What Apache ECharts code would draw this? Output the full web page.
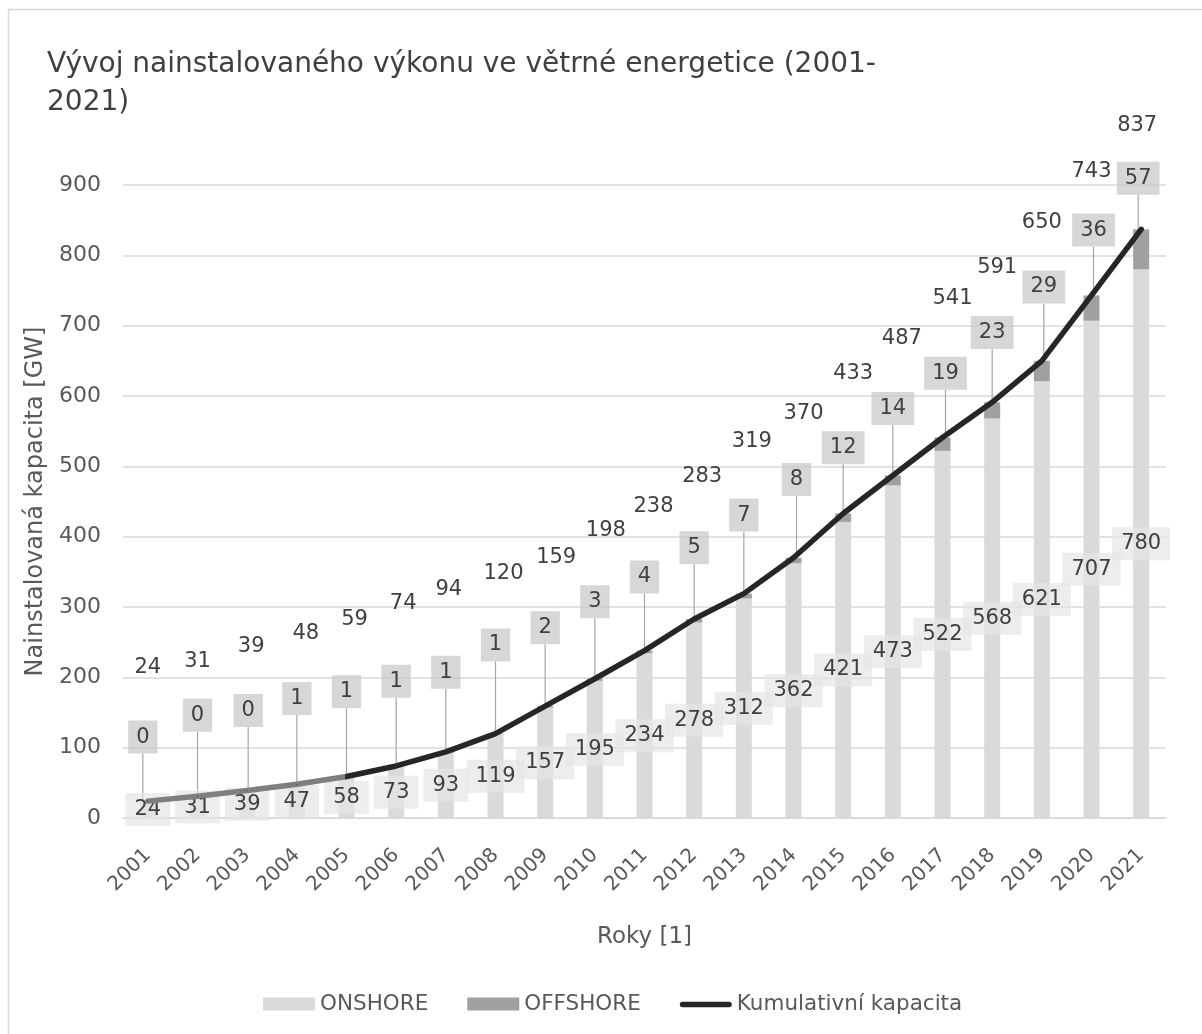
<!DOCTYPE html>
<html lang="cs">
<head>
<meta charset="utf-8">
<title>Vývoj nainstalovaného výkonu ve větrné energetice</title>
<script src="https://cdn.jsdelivr.net/npm/echarts@6/dist/echarts.min.js"></script>
<style>
  html, body { margin: 0; padding: 0; background: #ffffff; }
  #chart { width: 1202px; height: 1034px; }
</style>
</head>
<body>
<div id="chart"></div>
<script>
// Installed wind capacity, GW
const years = ['2001','2002','2003','2004','2005','2006','2007','2008','2009','2010','2011',
               '2012','2013','2014','2015','2016','2017','2018','2019','2020','2021'];
const onshore  = [24, 31, 39, 47, 58, 73, 93, 119, 157, 195, 234, 278, 312, 362, 421, 473, 522, 568, 621, 707, 780];
const offshore = [0, 0, 0, 1, 1, 1, 1, 1, 2, 3, 4, 5, 7, 8, 12, 14, 19, 23, 29, 36, 57];
const cumulative = [24, 31, 39, 48, 59, 74, 94, 120, 159, 198, 238, 283, 319, 370, 433, 487, 541, 591, 650, 743, 837];
const yTicks = { min: 0, max: 900, step: 100 };

// Label placement (pixel offsets from each mark)
const totalLabelDy = [-134,-135,-144,-151,-157,-162,-162,-160,-149,-148,-144,-142,-152,-144,-140,-137,-139,-135,-138,-124,-104];
const totalLabelDx = [0, 0, 4, 9, 8, 7, 3, 8, 11, 11, 9, 8, 8, 10, 10, 9, 10, 5, 0, 0, -4];
const offshoreLabelDy = [-64,-81,-80,-86,-85,-85,-80,-89,-79,-78,-75,-73,-81,-81,-70,-72,-71,-78,-84,-78,-71];
const offshoreLabelDx = [-5, 0, 1, 0, 0, 0, 0, 0, 0, 0, 0, 0, 0, 3, 0, 0, 3, 0, 2, 2, -3];

const FONT = '"DejaVu Sans", "Noto Sans", sans-serif';
const TEXT = '#404040';
const AXIS_TEXT = '#595959';
const GRID = '#d9d9d9';
const LINE_DARK = '#262626';
const LINE_EARLY = '#7f7f7f';

// the first stretch of the cumulative line (2001-2005) is drawn in grey
const earlyStop = 4 / (years.length - 1);
const lineColor = new echarts.graphic.LinearGradient(0, 0, 1, 0, [
  { offset: 0, color: LINE_EARLY },
  { offset: earlyStop, color: LINE_EARLY },
  { offset: earlyStop, color: LINE_DARK },
  { offset: 1, color: LINE_DARK }
]);

const chart = echarts.init(document.getElementById('chart'), null, { renderer: 'canvas' });

chart.setOption({
  backgroundColor: '#ffffff',
  animation: false,
  textStyle: { fontFamily: FONT },
  graphic: [{
    type: 'rect',
    shape: { x: 8.5, y: 9.5, width: 1300, height: 1100 },
    style: { fill: 'none', stroke: GRID, lineWidth: 1.5 },
    silent: true
  }],
  title: {
    text: 'Vývoj nainstalovaného výkonu ve větrné energetice (2001-\n2021)',
    left: 42,
    top: 41,
    textStyle: { fontFamily: FONT, fontSize: 28, fontWeight: 'normal', color: TEXT, lineHeight: 38 }
  },
  legend: {
    left: 258,
    top: 988,
    itemWidth: 52,
    itemHeight: 13,
    itemGap: 39,
    textStyle: { fontFamily: FONT, fontSize: 21.5, color: AXIS_TEXT },
    data: [
      { name: 'ONSHORE', icon: 'rect' },
      { name: 'OFFSHORE', icon: 'rect' },
      { name: 'Kumulativní kapacita',
        icon: 'path://M2,4 L52,4 A3,3 0 0 1 52,10 L2,10 A3,3 0 0 1 2,4 Z M0,0 L0.01,0 L0.01,13 L0,13 Z M54,0 L54.01,0 L54.01,13 L54,13 Z',
        itemStyle: { color: LINE_DARK, opacity: 1 } }
    ]
  },
  grid: { left: 123, right: 36, top: 185, bottom: 216, containLabel: false },
  xAxis: {
    type: 'category',
    data: years,
    name: 'Roky [1]',
    nameLocation: 'middle',
    nameGap: 108,
    nameTextStyle: { fontFamily: FONT, fontSize: 23, color: AXIS_TEXT },
    axisLine: { lineStyle: { color: GRID, width: 1.5 } },
    axisTick: { show: false },
    axisLabel: { rotate: 45, fontFamily: FONT, fontSize: 20, color: AXIS_TEXT, margin: 34, interval: 0 }
  },
  yAxis: {
    type: 'value',
    min: yTicks.min,
    max: yTicks.max,
    interval: yTicks.step,
    name: 'Nainstalovaná kapacita [GW]',
    nameLocation: 'middle',
    nameGap: 72,
    nameTextStyle: { fontFamily: FONT, fontSize: 24, color: AXIS_TEXT },
    axisLine: { show: false },
    axisTick: { show: false },
    axisLabel: { fontFamily: FONT, fontSize: 22, color: AXIS_TEXT, margin: 22 },
    splitLine: { lineStyle: { color: GRID, width: 1.5 } }
  },
  series: [
    {
      name: 'ONSHORE',
      type: 'bar',
      stack: 'kapacita',
      data: onshore,
      barWidth: 16,
      itemStyle: { color: '#dadada' },
      label: {
        show: true,
        position: 'inside',
        color: TEXT,
        fontSize: 21,
        fontFamily: FONT,
        backgroundColor: 'rgba(230,230,230,0.7)',
        padding: [6, 9, 6, 9]
      },
      z: 2
    },
    {
      name: 'OFFSHORE',
      type: 'bar',
      stack: 'kapacita',
      data: offshore,
      barWidth: 16,
      itemStyle: { color: '#a0a0a0' },
      label: {
        show: true,
        position: 'inside',
        color: TEXT,
        fontSize: 21,
        fontFamily: FONT,
        backgroundColor: 'rgba(200,200,200,0.72)',
        padding: [6, 8, 6, 8]
      },
      labelLine: { show: true, lineStyle: { color: '#a6a6a6', width: 1.2 } },
      labelLayout: function (p) {
        return { dx: offshoreLabelDx[p.dataIndex], dy: offshoreLabelDy[p.dataIndex] };
      },
      z: 2
    },
    {
      name: 'Kumulativní kapacita',
      type: 'line',
      data: cumulative,
      smooth: false,
      symbol: 'circle',
      symbolSize: 1,
      showSymbol: true,
      lineStyle: { width: 5.5, color: lineColor, cap: 'round', join: 'round' },
      itemStyle: { color: LINE_DARK },
      label: {
        show: true,
        position: 'inside',
        color: TEXT,
        fontSize: 21,
        fontFamily: FONT
      },
      labelLayout: function (p) {
        return { dx: totalLabelDx[p.dataIndex], dy: totalLabelDy[p.dataIndex] };
      },
      z: 3
    }
  ]
});
</script>
</body>
</html>
